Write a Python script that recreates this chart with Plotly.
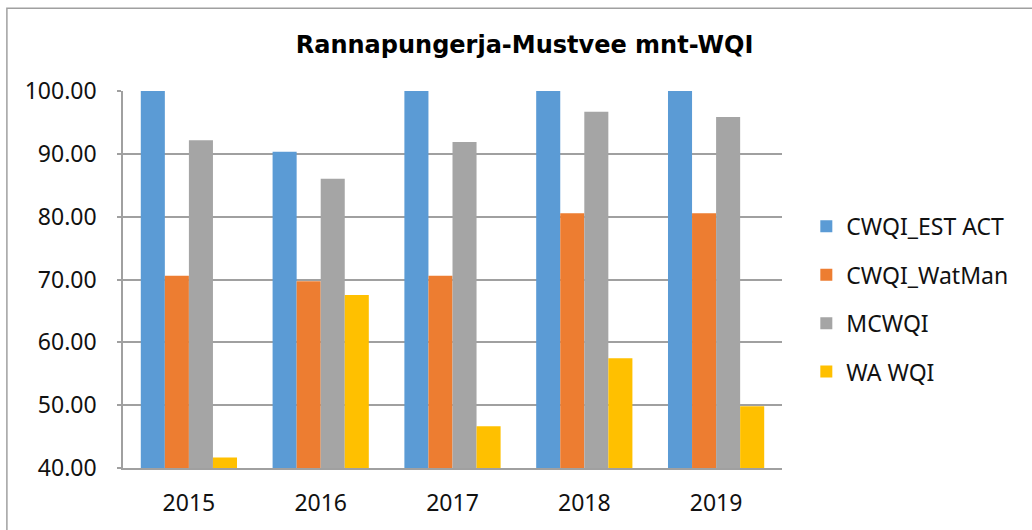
import plotly.graph_objects as go

years = ["2015", "2016", "2017", "2018", "2019"]
cwqi_est_act = [100.0, 90.35, 100.0, 100.0, 100.0]
cwqi_watman = [70.58, 69.73, 70.58, 80.55, 80.55]
mcwqi = [92.15, 86.04, 91.90, 96.68, 95.88]
wa_wqi = [41.66, 67.54, 46.65, 57.45, 49.84]

series_names = ["CWQI_EST ACT", "CWQI_WatMan", "MCWQI", "WA WQI"]
series_values = [cwqi_est_act, cwqi_watman, mcwqi, wa_wqi]
series_colors = ["#5B9BD5", "#ED7D31", "#A5A5A5", "#FFC000"]

W, H = 1032, 530
L, R, T, B = 123.3, 781.7, 91.3, 467.7  # plot area in pixels


def px_x(p):
    return (p - L) / (R - L)


def px_y(p):
    return (B - p) / (B - T)


fig = go.Figure()
for i, (name, vals, col) in enumerate(zip(series_names, series_values, series_colors)):
    fig.add_trace(go.Bar(
        x=years, y=vals, name=name, legendgroup=name,
        marker=dict(color=col, line=dict(width=0)),
        base=0,
    ))

tick_font = dict(family="Noto Sans", size=23, color="#111111")

fig.update_layout(
    width=W, height=H,
    margin=dict(l=L, r=W - R, t=T, b=H - B, pad=0),
    paper_bgcolor="white", plot_bgcolor="white",
    barmode="group", bargap=0.27, bargroupgap=0,
    title=dict(
        text="<b>Rannapungerja-Mustvee mnt-WQI</b>",
        font=dict(family="DejaVu Sans", size=24, color="#000000"),
        x=px_x(524.5), xref="paper", xanchor="center",
        y=1 - 44.5 / H, yref="container", yanchor="middle",
    ),
    legend=dict(
        x=px_x(806), xanchor="left", y=px_y(205), yanchor="top",
        font=dict(family="Noto Sans", size=23, color="#111111"),
        tracegroupgap=15.5, bgcolor="rgba(0,0,0,0)",
    ),
    showlegend=True,
    shapes=[dict(
        type="rect", xref="paper", yref="paper",
        x0=px_x(7.3), x1=px_x(1045), y0=px_y(545), y1=px_y(8.7),
        line=dict(color="#a0a0a0", width=1.5), fillcolor="rgba(0,0,0,0)", layer="below",
    )],
)

fig.update_yaxes(
    range=[40, 100], dtick=10, tick0=40, tickformat=".2f",
    showgrid=True, gridcolor="#a0a0a0", gridwidth=1.5,
    showline=True, linecolor="#a0a0a0", linewidth=1.5,
    ticks="outside", ticklen=4, tickcolor="#a0a0a0", tickwidth=1.5,
    tickfont=tick_font, ticklabelstandoff=16, zeroline=False,
)
fig.update_xaxes(
    showline=True, linecolor="#a0a0a0", linewidth=1.5,
    ticks="", tickfont=tick_font, ticklabelstandoff=14, showgrid=False,
)

fig.write_html("out.html", post_script="document.body.style.margin='0';",
               config={"displayModeBar": False})
